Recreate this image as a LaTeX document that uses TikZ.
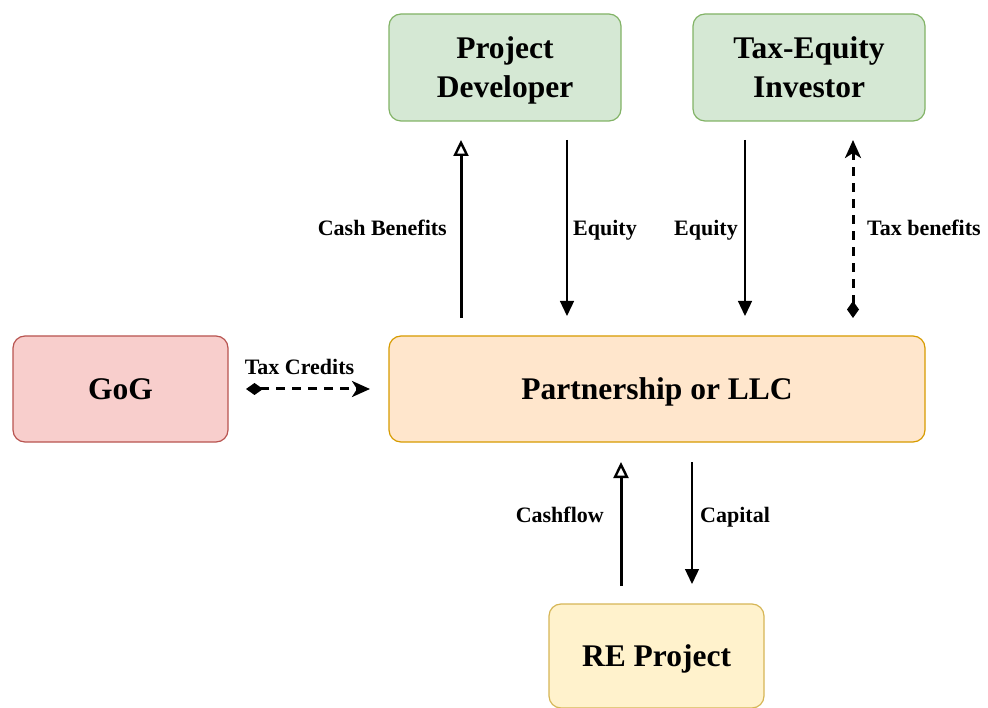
\documentclass[tikz,border=0pt]{standalone}
\usepackage{fontspec}
\setmainfont{Liberation Serif}
\usetikzlibrary{arrows.meta}
\definecolor{gfill}{HTML}{D5E8D4}\definecolor{gline}{HTML}{82B366}
\definecolor{rfill}{HTML}{F8CECC}\definecolor{rline}{HTML}{B85450}
\definecolor{ofill}{HTML}{FFE6CC}\definecolor{oline}{HTML}{D79B00}
\definecolor{yfill}{HTML}{FFF2CC}\definecolor{yline}{HTML}{D6B656}
% struts that keep box captions optically centred
\newcommand\toprule{\rule{0pt}{33.3pt}}
\newcommand\botrule{\rule[-11.7pt]{0pt}{0pt}}
\begin{document}
\begin{tikzpicture}[x=1pt,y=-1pt,
  box/.style={draw, line width=1.2pt, rounded corners=12pt, inner sep=0pt, align=center,
    font=\fontsize{31.5}{39}\selectfont\bfseries},
  lbl/.style={font=\fontsize{22}{26}\selectfont\bfseries, inner sep=0pt,
    text height=15pt, text depth=5pt},
  thin/.style={line width=1.3pt, -{Triangle[width=14pt,length=15pt]}},
  thick/.style={line width=3pt, -{Triangle[open,width=15pt,length=16pt,line width=2.4pt]}},
  dash2/.style={line width=3pt, dash pattern=on 9pt off 7pt,
    {Diamond[width=12pt,length=17pt]}-{Stealth[width=16pt,length=18pt,inset=5pt]}}]
\useasboundingbox (0,0) rectangle (988,708);
\node[box, fill=gfill, draw=gline, minimum width=232pt, minimum height=107pt] (pd) at (505,67.5) {\toprule Project\\Developer\botrule};
\node[box, fill=gfill, draw=gline, minimum width=232pt, minimum height=107pt] (tei) at (809,67.5) {\toprule Tax-Equity\\Investor\botrule};
\node[box, fill=rfill, draw=rline, minimum width=215pt, minimum height=106pt] (gog) at (120.5,389) {\toprule GoG\botrule};
\node[box, fill=ofill, draw=oline, minimum width=536pt, minimum height=106pt] (llc) at (657,389) {\toprule Partnership or LLC\botrule};
\node[box, fill=yfill, draw=yline, minimum width=215pt, minimum height=104pt] (re) at (656.5,656) {\toprule RE Project\botrule};
% connector end points
\coordinate (cbA) at (461,318); \coordinate (cbB) at (461,140);
\coordinate (e1A) at (567,140); \coordinate (e1B) at (567,316);
\coordinate (e2A) at (745,140); \coordinate (e2B) at (745,316);
\coordinate (tbA) at (853,318); \coordinate (tbB) at (853,140);
\coordinate (tcA) at (246,389); \coordinate (tcB) at (370,389);
\coordinate (cfA) at (621,586); \coordinate (cfB) at (621,462);
\coordinate (cpA) at (692,462); \coordinate (cpB) at (692,584);
\draw[thick] (cbA) -- (cbB);
\draw[thin] (e1A) -- (e1B);
\draw[thin] (e2A) -- (e2B);
\draw[dash2] (tbA) -- (tbB);
\draw[dash2] (tcA) -- (tcB);
\draw[thick] (cfA) -- (cfB);
\draw[thin] (cpA) -- (cpB);
\node[lbl, anchor=east] (lcb) at (447,231) {Cash Benefits};
\node[lbl, anchor=west] (le1) at (573,231) {Equity};
\node[lbl, anchor=east] (le2) at (738,231) {Equity};
\node[lbl, anchor=west] (ltb) at (867,231) {Tax benefits};
\node[lbl] (ltc) at (299.5,370) {Tax Credits};
\node[lbl, anchor=east] (lcf) at (604,517) {Cashflow};
\node[lbl, anchor=west] (lcp) at (700,517) {Capital};
\end{tikzpicture}
\end{document}
